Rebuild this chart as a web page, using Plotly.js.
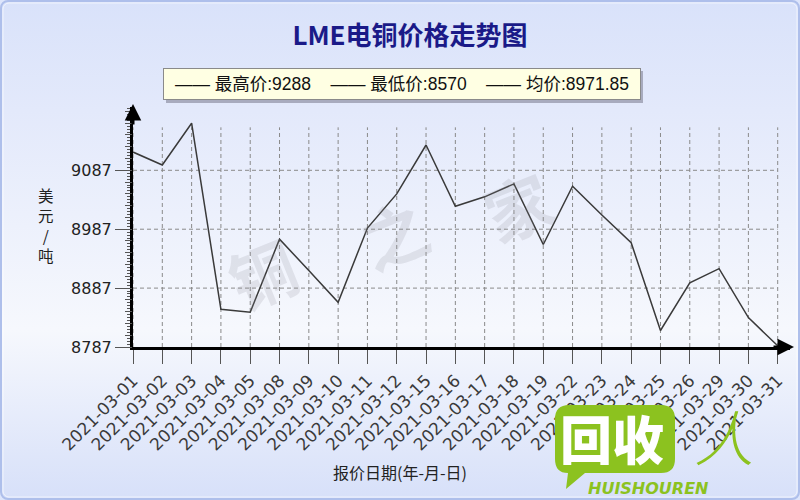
<!DOCTYPE html>
<html>
<head>
<meta charset="utf-8">
<script src="https://cdn.plot.ly/plotly-3.0.1.min.js"></script>
<style>html,body{margin:0;padding:0;background:#dde5fb;}#chart{width:800px;height:500px;}</style>
</head>
<body>
<div id="chart"></div>
<script>
// ---- data ----
const dates = ['2021-03-01','2021-03-02','2021-03-03','2021-03-04','2021-03-05','2021-03-08','2021-03-09','2021-03-10','2021-03-11','2021-03-12','2021-03-15','2021-03-16','2021-03-17','2021-03-18','2021-03-19','2021-03-22','2021-03-23','2021-03-24','2021-03-25','2021-03-26','2021-03-29','2021-03-30','2021-03-31'];
const prices = [9118, 9096, 9167, 8851, 8846, 8970, 8917, 8863, 8989, 9047, 9130, 9026, 9042, 9064, 8961, 9060, 9011, 8964, 8815, 8896, 8920, 8837, 8789];
const yTicks = [8787, 8887, 8987, 9087];
const yTickText = ['8787', '8887', '8987', '9087'];
const maxPrice = '9288';
const minPrice = '8570';
const avgPrice = '8971.85';
const titleText = 'LME电铜价格走势图';
const yTitleText = '美<br>元<br>/<br>吨';
const xTitleText = '报价日期(年-月-日)';

// ---- geometry helpers ----
const W = 800, H = 500;
const M = {l: 133, r: 10, t: 107, b: 153};
const PW = W - M.l - M.r, PH = H - M.t - M.b;
const px = x => (x - M.l) / PW;
const py = y => (H - M.b - y) / PH;
const yMin = 8787, yMax = 9194.5;
const gridTop = 9160;

const bgSvg = "<svg xmlns='http://www.w3.org/2000/svg' width='800' height='500'><defs><linearGradient id='g' x1='0' y1='0' x2='0' y2='1'>" +
  "<stop offset='0' stop-color='#d9e2fa'/><stop offset='0.22' stop-color='#e3e9fb'/><stop offset='0.66' stop-color='#f6f8fd'/><stop offset='1' stop-color='#d7e0f9'/>" +
  "</linearGradient></defs><rect x='1' y='1' width='798' height='498' rx='7' ry='7' fill='url(#g)' stroke='#aebfeb' stroke-width='2'/>" +
  "<rect x='3' y='3' width='794' height='494' rx='6' ry='6' fill='none' stroke='#ffffff' stroke-opacity='0.6' stroke-width='1'/></svg>";

const shapes = [];
// vertical dashed gridlines at each category
dates.forEach((d, i) => {
  shapes.push({type: 'line', xref: 'x', yref: 'y', x0: i, x1: i, y0: yMin, y1: gridTop,
    line: {color: '#8a8a8a', width: 1, dash: '4px,3px'}, layer: 'below'});
});
// horizontal dashed gridlines
yTicks.slice(1).forEach(v => {
  shapes.push({type: 'line', xref: 'x', yref: 'y', x0: 0, x1: dates.length - 1, y0: v, y1: v,
    line: {color: '#8a8a8a', width: 1, dash: '4px,3px'}, layer: 'below'});
});
// legend box shadow
shapes.push({type: 'rect', xref: 'paper', yref: 'paper', x0: px(166), x1: px(643), y0: py(71), y1: py(103),
  fillcolor: 'rgba(110,110,130,0.5)', line: {width: 0}, layer: 'above'});
// logo bubble
(function () {
  const x0 = 555, x1 = 675, y0 = 405, y1 = 473, r = 14;
  const P = (x, y) => px(x) + ',' + py(y);
  const path = 'M ' + P(x0 + r, y0) + ' L ' + P(x1 - r, y0) + ' Q ' + P(x1, y0) + ' ' + P(x1, y0 + r) +
    ' L ' + P(x1, y1 - r) + ' Q ' + P(x1, y1) + ' ' + P(x1 - r, y1) +
    ' L ' + P(585, y1) + ' L ' + P(566, 489) + ' L ' + P(568, y1) +
    ' Q ' + P(x0, y1) + ' ' + P(x0, y1 - r) + ' L ' + P(x0, y0 + r) + ' Q ' + P(x0, y0) + ' ' + P(x0 + r, y0) + ' Z';
  shapes.push({type: 'path', xref: 'paper', yref: 'paper', path: path, fillcolor: '#8cc21f', line: {width: 0}, layer: 'above'});
})();

const cjk = '"Noto Sans CJK SC", "DejaVu Sans", sans-serif';
const A = (x, y, text, font, extra) => Object.assign({xref: 'paper', yref: 'paper', x: px(x), y: py(y), xanchor: 'center', yanchor: 'middle',
  showarrow: false, text: text, font: font}, extra || {});
const wm = {family: cjk, size: 66, color: 'rgba(140,140,150,0.18)', weight: 700};
const annotations = [
  // legend
  A(402, 84, '—— 最高价:' + maxPrice + '    —— 最低价:' + minPrice + '    —— 均价:' + avgPrice,
    {family: '"Liberation Sans", "Noto Sans CJK SC", sans-serif', size: 17.5, color: '#111'},
    {bgcolor: '#ffffe3', bordercolor: '#8a8a8a', borderwidth: 1, borderpad: 3, width: 470, height: 24}),
  // y title
  A(46, 225, yTitleText, {family: cjk, size: 15.5, color: '#222'}),
  // x title
  A(400, 472, xTitleText, {family: cjk, size: 16, color: '#222'}),
  // watermark
  A(262, 272, '铜', wm, {textangle: -22}),
  A(393, 232, '之', wm, {textangle: -22}),
  A(517, 205, '家', wm, {textangle: -22}),
  // logo
  A(612, 437, '回收', {family: cjk, size: 52, color: '#ffffff', weight: 900}),
  A(724, 434, '<i>人</i>', {family: cjk, size: 60, color: '#8cc21f', weight: 300}),
  A(648, 488, '<b><i>HUISHOUREN</i></b>', {family: '"DejaVu Sans", sans-serif', size: 16, color: '#8cc21f'}),
  // axis arrows
  {xref: 'paper', yref: 'paper', x: 0, y: py(104), ax: 0, ay: 22, showarrow: true, arrowhead: 2, arrowsize: 1.1, arrowwidth: 3, arrowcolor: '#000', text: ''},
  {xref: 'paper', yref: 'paper', x: px(794), y: py(347), ax: -22, ay: 0, showarrow: true, arrowhead: 2, arrowsize: 1.1, arrowwidth: 3, arrowcolor: '#000', text: ''}
];

const traces = [{
  type: 'scatter', mode: 'lines', x: dates, y: prices,
  line: {color: '#3a3a3a', width: 1.5}, cliponaxis: false, hoverinfo: 'x+y', showlegend: false
}, {
  type: 'scatter', mode: 'lines', x: dates, y: prices, yaxis: 'y2',
  line: {color: 'rgba(0,0,0,0)', width: 0}, hoverinfo: 'skip', showlegend: false
}];

const layout = {
  width: W, height: H,
  margin: M,
  paper_bgcolor: '#dde5fb',
  plot_bgcolor: 'rgba(0,0,0,0)',
  showlegend: false,
  title: {text: titleText, x: 410 / W, xref: 'container', xanchor: 'center', y: 1 - 36 / H, yref: 'container', yanchor: 'middle',
          font: {family: cjk, size: 26, color: '#1a1a88', weight: 700}},
  xaxis: {type: 'category', categoryorder: 'array', categoryarray: dates, range: [0, 22.42],
          showgrid: false, zeroline: false, showline: true, linewidth: 3, linecolor: '#000',
          ticks: 'outside', ticklen: 14, tickwidth: 1, tickcolor: '#555', tickangle: -45,
          tickfont: {family: '"DejaVu Sans", sans-serif', size: 17, color: '#3a3a3a'}},
  yaxis: {range: [yMin, yMax], tickmode: 'array', tickvals: yTicks, ticktext: yTickText,
          showgrid: false, zeroline: false, showline: true, linewidth: 3, linecolor: '#000',
          ticks: 'outside', ticklen: 15, tickwidth: 1, tickcolor: '#555',
          tickfont: {family: '"DejaVu Sans", sans-serif', size: 16, color: '#222'},
          minor: {ticks: 'outside', ticklen: 3, tick0: 8787, dtick: 5, tickcolor: '#555', tickwidth: 1, showgrid: false}},
  yaxis2: {range: [yMin, yMax], overlaying: 'y', side: 'left', anchor: 'x', tickmode: 'linear', tick0: 8787, dtick: 20,
           showgrid: false, zeroline: false, showline: false, showticklabels: false,
           ticks: 'outside', ticklen: 7, tickwidth: 1, tickcolor: '#555'},
  shapes: shapes,
  annotations: annotations,
  images: [{source: 'data:image/svg+xml;charset=utf-8,' + encodeURIComponent(bgSvg), xref: 'paper', yref: 'paper',
            x: -M.l / PW, y: 1 + M.t / PH, sizex: W / PW, sizey: H / PH, xanchor: 'left', yanchor: 'top',
            sizing: 'stretch', layer: 'below'}]
};

Plotly.newPlot('chart', traces, layout, {staticPlot: true, displayModeBar: false});
</script>
</body>
</html>
